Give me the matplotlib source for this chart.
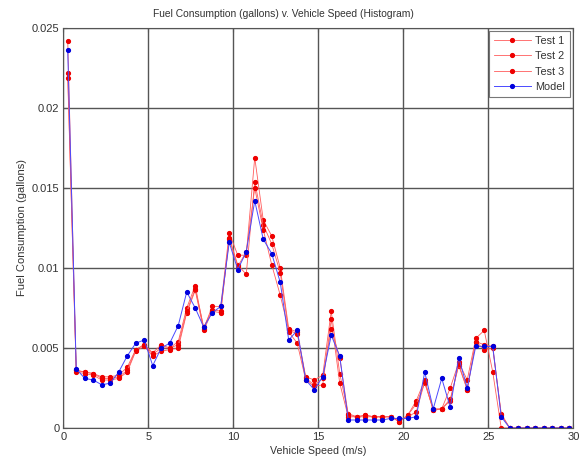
import numpy as np
import matplotlib
matplotlib.use("Agg")
import matplotlib.pyplot as plt

plt.rcParams['font.family'] = ['Liberation Sans', 'DejaVu Sans']

# Bin centres of the speed histogram (0.5 m/s bins)
speed = np.arange(60) * 0.5 + 0.25

test1 = [0.0242, 0.0036, 0.0035, 0.0034, 0.0032, 0.0032, 0.0033, 0.0038, 0.0049, 0.0052,
         0.0047, 0.0052, 0.0050, 0.0054, 0.0075, 0.0089, 0.0062, 0.0076, 0.0076, 0.0122,
         0.0108, 0.0108, 0.0169, 0.0130, 0.0120, 0.0100, 0.0062, 0.0060, 0.0032, 0.0030,
         0.0033, 0.0073, 0.0034, 0.0009, 0.0007, 0.0008, 0.0007, 0.0007, 0.0007, 0.0004,
         0.0008, 0.0017, 0.0030, 0.0011, 0.0012, 0.0025, 0.0041, 0.0030, 0.0056, 0.0061,
         0.0035, 0.0000, 0, 0, 0, 0, 0, 0, 0, 0]
test2 = [0.0222, 0.0035, 0.0034, 0.0033, 0.0030, 0.0030, 0.0031, 0.0035, 0.0048, 0.0051,
         0.0045, 0.0048, 0.0049, 0.0050, 0.0072, 0.0086, 0.0061, 0.0073, 0.0072, 0.0119,
         0.0102, 0.0096, 0.0154, 0.0127, 0.0115, 0.0097, 0.0060, 0.0053, 0.0030, 0.0026,
         0.0027, 0.0068, 0.0028, 0.0007, 0.0007, 0.0008, 0.0007, 0.0007, 0.0007, 0.0004,
         0.0008, 0.0015, 0.0028, 0.0012, 0.0012, 0.0018, 0.0039, 0.0024, 0.0054, 0.0049,
         0.0050, 0.0009, 0, 0, 0, 0, 0, 0, 0, 0]
test3 = [0.0219, 0.0036, 0.0035, 0.0034, 0.0031, 0.0031, 0.0032, 0.0036, 0.0049, 0.0052,
         0.0046, 0.0050, 0.0050, 0.0052, 0.0073, 0.0087, 0.0063, 0.0074, 0.0073, 0.0118,
         0.0101, 0.0110, 0.0150, 0.0124, 0.0102, 0.0083, 0.0061, 0.0059, 0.0031, 0.0027,
         0.0031, 0.0062, 0.0044, 0.0008, 0.0007, 0.0007, 0.0007, 0.0007, 0.0007, 0.0005,
         0.0007, 0.0010, 0.0029, 0.0011, 0.0012, 0.0017, 0.0040, 0.0024, 0.0054, 0.0052,
         0.0051, 0.0008, 0, 0, 0, 0, 0, 0, 0, 0]
model = [0.0236, 0.0037, 0.0031, 0.0030, 0.0027, 0.0028, 0.0035, 0.0045, 0.0053, 0.0055,
         0.0039, 0.0050, 0.0053, 0.0064, 0.0085, 0.0075, 0.0063, 0.0072, 0.0076, 0.0116,
         0.0099, 0.0110, 0.0142, 0.0118, 0.0109, 0.0091, 0.0055, 0.0061, 0.0030, 0.0024,
         0.0032, 0.0058, 0.0045, 0.0005, 0.0005, 0.0005, 0.0005, 0.0005, 0.0006, 0.0006,
         0.0006, 0.0007, 0.0035, 0.0012, 0.0031, 0.0013, 0.0044, 0.0025, 0.0051, 0.0051,
         0.0051, 0.0007, 0, 0, 0, 0, 0, 0, 0, 0]

x_ticks = [0, 5, 10, 15, 20, 25, 30]
y_ticks = [0, 0.005, 0.01, 0.015, 0.02, 0.025]
y_tick_labels = ['0', '0.005', '0.01', '0.015', '0.02', '0.025']

fig = plt.figure(figsize=(5.84, 4.61), dpi=100)
ax = fig.add_axes([0.1087, 0.0716, 0.8733, 0.8677])

red_kw = dict(color='#ff5c5c', lw=0.6, marker='.', markersize=5.5, mfc='#ee0000', mec='#ee0000')
blue_kw = dict(color='#4a4aff', lw=0.7, marker='.', markersize=5.5, mfc='#0000dd', mec='#0000dd')
ax.plot(speed, test1, label='Test 1', **red_kw)
ax.plot(speed, test2, label='Test 2', **red_kw)
ax.plot(speed, test3, label='Test 3', **red_kw)
ax.plot(speed, model, label='Model', **blue_kw)

ax.set_xlim(0, 30)
ax.set_ylim(0, 0.025)
ax.set_xticks(x_ticks)
ax.set_yticks(y_ticks)
ax.set_yticklabels(y_tick_labels)
ax.tick_params(direction='in', labelsize=8, length=3, pad=3, top=True, right=True,
               color='#555555', labelcolor='#333333')
ax.grid(True, color='#555555', lw=1.0)
for s in ax.spines.values():
    s.set_color('#555555')
    s.set_linewidth(0.8)

ax.set_title('Fuel Consumption (gallons) v. Vehicle Speed (Histogram)', fontsize=7.4,
             x=0.432, pad=8, color='#333333')
ax.set_xlabel('Vehicle Speed (m/s)', fontsize=7.7, labelpad=3, color='#333333')
ax.set_ylabel('Fuel Consumption (gallons)', fontsize=8, labelpad=3.5, color='#333333')

leg = ax.legend(loc='upper right', fontsize=7.8, frameon=True, fancybox=False,
                edgecolor='#555555', handlelength=3.4, handletextpad=0.4,
                borderpad=0.45, labelspacing=0.5, borderaxespad=0,
                bbox_to_anchor=(0.993, 0.9925))
leg.get_frame().set_linewidth(0.8)
for t in leg.get_texts():
    t.set_color('#333333')

fig.savefig('out.png', dpi=100)
